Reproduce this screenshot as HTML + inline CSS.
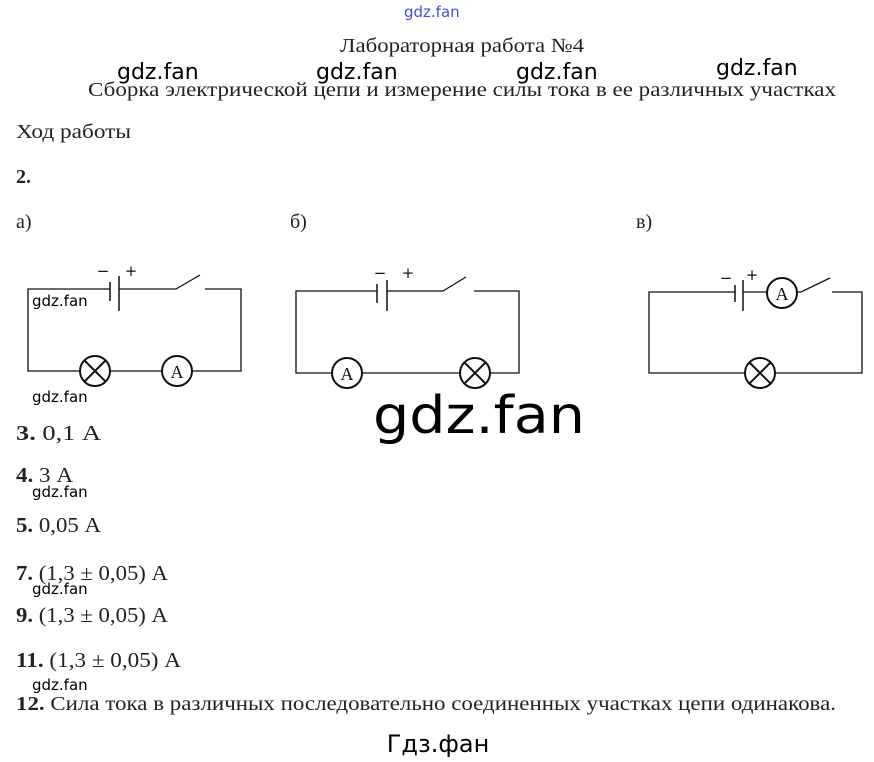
<!DOCTYPE html>
<html><head><meta charset="utf-8"><style>html,body{margin:0;padding:0;background:#fff}</style></head>
<body>
<svg width="874" height="762" xmlns="http://www.w3.org/2000/svg" style="display:block">
<g font-family="Liberation Serif, serif" font-size="20" fill="#222">
<text x="340" y="52" textLength="244" lengthAdjust="spacingAndGlyphs">Лабораторная работа №4</text>
<text x="88" y="96" textLength="748" lengthAdjust="spacingAndGlyphs">Сборка электрической цепи и измерение силы тока в ее различных участках</text>
<text x="16" y="138" textLength="115" lengthAdjust="spacingAndGlyphs">Ход работы</text>
<text x="16" y="183" font-weight="bold">2.</text>
<text x="16" y="228">а)</text>
<text x="290" y="228">б)</text>
<text x="636" y="228">в)</text>
<g font-size="21">
<text x="16" y="440" textLength="85" lengthAdjust="spacingAndGlyphs"><tspan font-weight="bold">3.</tspan> 0,1 А</text>
<text x="16" y="482" textLength="57" lengthAdjust="spacingAndGlyphs"><tspan font-weight="bold">4.</tspan> 3 А</text>
<text x="16" y="532" textLength="85" lengthAdjust="spacingAndGlyphs"><tspan font-weight="bold">5.</tspan> 0,05 А</text>
<text x="16" y="580" textLength="152" lengthAdjust="spacingAndGlyphs"><tspan font-weight="bold">7.</tspan> (1,3 ± 0,05) А</text>
<text x="16" y="622" textLength="152" lengthAdjust="spacingAndGlyphs"><tspan font-weight="bold">9.</tspan> (1,3 ± 0,05) А</text>
<text x="16" y="667" textLength="165" lengthAdjust="spacingAndGlyphs"><tspan font-weight="bold">11.</tspan> (1,3 ± 0,05) А</text>
</g>
<text x="16" y="710" textLength="820" lengthAdjust="spacingAndGlyphs"><tspan font-weight="bold">12.</tspan> Сила тока в различных последовательно соединенных участках цепи одинакова.</text>
</g>
<g font-family="DejaVu Sans, sans-serif" fill="#000">
<text x="404" y="17" font-size="15" fill="#4a4adc">gdz.fan</text>
<text x="117" y="79" font-size="22">gdz.fan</text>
<text x="316" y="79" font-size="22">gdz.fan</text>
<text x="516" y="79" font-size="22">gdz.fan</text>
<text x="716" y="75" font-size="22">gdz.fan</text>
<text x="373" y="433" font-size="52" textLength="212" lengthAdjust="spacingAndGlyphs">gdz.fan</text>
<text x="32" y="306" font-size="15">gdz.fan</text>
<text x="32" y="402" font-size="15">gdz.fan</text>
<text x="32" y="497" font-size="15">gdz.fan</text>
<text x="32" y="594" font-size="15">gdz.fan</text>
<text x="32" y="690" font-size="15">gdz.fan</text>
<text x="438" y="752" font-size="24" text-anchor="middle">Гдз.фан</text>
</g>
<g stroke="#111" stroke-width="1.3" fill="none">
<path d="M110 289H28V371H80M110 371H162M192 371H241V289H205M119 289H176L200 275"/>
<path d="M110 282V301M119 276V311" stroke-width="1.5"/>
<circle cx="95" cy="371" r="15" stroke-width="2"/><path d="M84 360L106 382M106 360L84 382" stroke-width="2"/>
<circle cx="177" cy="371" r="15" stroke-width="2"/>
<path d="M377 291H296V373H332M362 373H460M490 373H519V291H474M387 291H443L466 277"/>
<path d="M377 284V303M387 280V311" stroke-width="1.5"/>
<circle cx="347" cy="373" r="15" stroke-width="2"/>
<circle cx="475" cy="373" r="15" stroke-width="2"/><path d="M464 362L486 384M486 362L464 384" stroke-width="2"/>
<path d="M735 292H649V373H745M775 373H862V292H832M743 292H767M797 292H801L830 278"/>
<path d="M735 285V302M743 280V311" stroke-width="1.5"/>
<circle cx="782" cy="293" r="15" stroke-width="2"/>
<circle cx="760" cy="373" r="15" stroke-width="2"/><path d="M749 362L771 384M771 362L749 384" stroke-width="2"/>
</g>
<g font-family="Liberation Serif, serif" font-size="18" fill="#111" text-anchor="middle">
<text x="177" y="378">A</text><text x="347" y="380">A</text><text x="782" y="300">A</text>
</g>
<g font-family="DejaVu Sans, sans-serif" font-size="15" fill="#111" text-anchor="middle">
<text x="103" y="276">−</text><text x="131" y="276">+</text>
<text x="380" y="278">−</text><text x="408" y="278">+</text>
<text x="726" y="283">−</text><text x="752" y="280">+</text>
</g>
</svg>
</body></html>
